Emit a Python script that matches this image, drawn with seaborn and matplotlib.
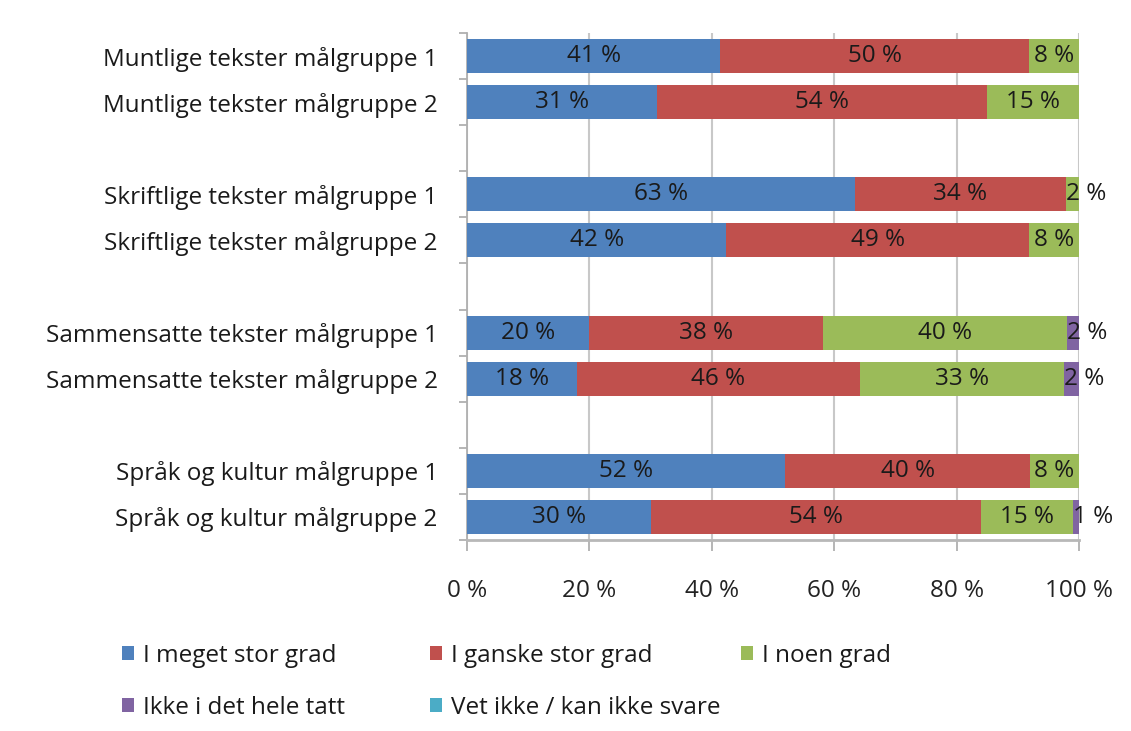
import matplotlib
matplotlib.use("Agg")
import matplotlib.pyplot as plt
from matplotlib.patches import Patch
from matplotlib.ticker import FixedLocator
import seaborn as sns
import pandas as pd
import numpy as np

categories = [
    "Muntlige tekster målgruppe 1",
    "Muntlige tekster målgruppe 2",
    "Skriftlige tekster målgruppe 1",
    "Skriftlige tekster målgruppe 2",
    "Sammensatte tekster målgruppe 1",
    "Sammensatte tekster målgruppe 2",
    "Språk og kultur målgruppe 1",
    "Språk og kultur målgruppe 2",
]
series = [
    "I meget stor grad",
    "I ganske stor grad",
    "I noen grad",
    "Ikke i det hele tatt",
    "Vet ikke / kan ikke svare",
]
meget_stor = [41.4, 31.0, 63.4, 42.4, 20.0, 18.0, 52.0, 30.0]
ganske_stor = [50.4, 54.0, 34.4, 49.4, 38.2, 46.2, 40.0, 54.0]
noen_grad = [8.2, 15.0, 2.2, 8.2, 39.8, 33.4, 8.0, 15.0]
ikke_hele = [0.0, 0.0, 0.0, 0.0, 2.0, 2.4, 0.0, 1.0]
vet_ikke = [0.0, 0.0, 0.0, 0.0, 0.0, 0.0, 0.0, 0.0]
colors = ["#4F81BD", "#C0504D", "#9BBB59", "#8064A2", "#4BACC6"]
x_ticks = [0, 20, 40, 60, 80, 100]
x_ticklabels = ["0 %", "20 %", "40 %", "60 %", "80 %", "100 %"]

gaps = [" ", "  ", "   "]
order = [categories[0], categories[1], gaps[0],
         categories[2], categories[3], gaps[1],
         categories[4], categories[5], gaps[2],
         categories[6], categories[7]]

vals = [meget_stor, ganske_stor, noen_grad, ikke_hele, vet_ikke]
df = pd.DataFrame({s: v for s, v in zip(series, vals)}, index=categories)
cum = df.cumsum(axis=1)

sns.set_theme(style="white")
plt.rcParams["font.family"] = ["Open Sans", "DejaVu Sans"]
FS = 17.5

fig = plt.figure(figsize=(11.31, 7.31), dpi=100)
ax = fig.add_axes([467 / 1131, 1 - 540 / 731, 612 / 1131, 507 / 731])

# draw cumulative totals, largest first, so each visible part is one segment
for i in range(len(series) - 1, -1, -1):
    d = pd.DataFrame({"cat": categories, "val": cum[series[i]].values})
    sns.barplot(data=d, x="val", y="cat", order=order, color=colors[i],
                width=0.74, orient="h", saturation=1, ax=ax, zorder=3,
                linewidth=0)

ax.set_xlim(0, 100)
ax.set_ylim(10.5, -0.5)
ax.set_xlabel("")
ax.set_ylabel("")

# data labels
pos = {c: order.index(c) for c in categories}
for i, s in enumerate(series):
    for c in categories:
        v = df.loc[c, s]
        if v <= 0:
            continue
        lab = f"{round(v):.0f} %"
        if v < 4:
            ax.text(cum.loc[c, s] - v, pos[c], lab, ha="left", va="center",
                    fontsize=FS, color="#1a1a1a", zorder=5)
        else:
            ax.text(cum.loc[c, s] - v / 2, pos[c], lab, ha="center",
                    va="center", fontsize=FS, color="#1a1a1a", zorder=5)

# grid and axes styling
ax.set_xticks(x_ticks)
ax.set_xticklabels(x_ticklabels, fontsize=FS, color="#222222")
ax.xaxis.grid(True, color="#C8C8C8", linewidth=1.5, zorder=0)
ax.set_axisbelow(True)
for sp in ["top", "right"]:
    ax.spines[sp].set_visible(False)
ax.spines["left"].set_color("#B0B0B0")
ax.spines["left"].set_linewidth(1.3)
ax.spines["bottom"].set_color("#B8B8B8")
ax.spines["bottom"].set_linewidth(2.0)
ax.tick_params(axis="x", which="major", length=8, width=1.3, color="#B0B0B0",
               pad=20, bottom=True, direction="out")

ax.set_yticks(range(len(order)))
ax.set_yticklabels(order, fontsize=FS, color="#1a1a1a")
ax.tick_params(axis="y", which="major", length=0, pad=21)
ax.yaxis.set_minor_locator(FixedLocator(np.arange(-0.5, len(order), 1.0)))
ax.tick_params(axis="y", which="minor", length=6, width=1.3, color="#B0B0B0",
               left=True, direction="out")

# legend in three fixed columns
handles = [Patch(facecolor=c, edgecolor="none") for c in colors]
cols = [([0, 3], 122 / 1131), ([1, 4], 430 / 1131), ([2], 741 / 1131)]
for idx, xpos in cols:
    leg = fig.legend([handles[k] for k in idx], [series[k] for k in idx],
                     loc="upper left", bbox_to_anchor=(xpos, 1 - 644 / 731),
                     frameon=False, fontsize=FS, handlelength=0.5,
                     handleheight=0.5, handletextpad=0.35, labelspacing=1.14,
                     borderpad=0, borderaxespad=0)
    for t in leg.get_texts():
        t.set_color("#1a1a1a")

fig.savefig("out.png", dpi=100, facecolor="white")
